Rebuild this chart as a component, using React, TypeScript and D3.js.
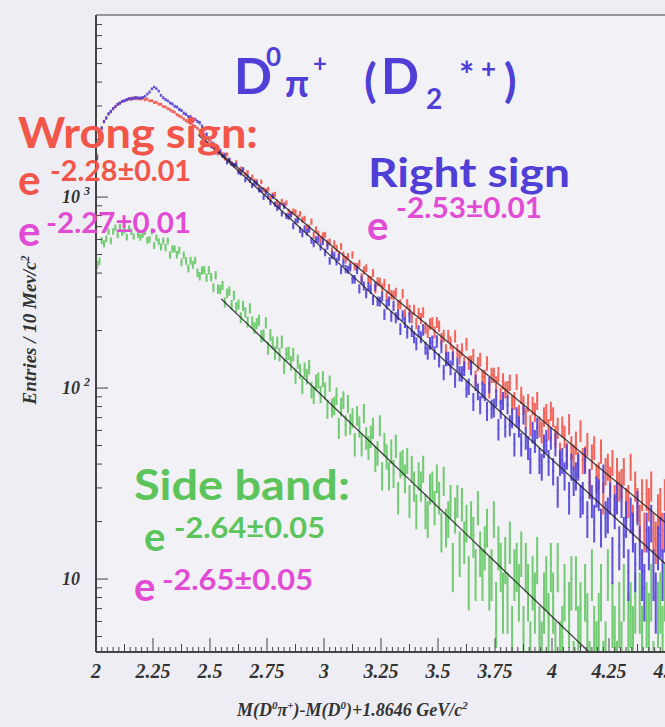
import React from "react";
import * as d3 from "d3";

// Histogram binning (GeV/c^2)
const BIN_START = 2.0;
const BIN_WIDTH = 0.01;

// Wrong-sign D0 pi+ combinations, entries per 10 MeV bin
const wrongSign = [
  1650, 2070, 2290, 2480, 2590, 2720, 2800, 2890, 2970, 3050,
  3100, 3160, 3190, 3220, 3280, 3240, 3310, 3270, 3300, 3250,
  3290, 3230, 3260, 3190, 3200, 3130, 3140, 3060, 3060, 2980,
  2960, 2900, 2860, 2810, 2780, 2700, 2660, 2620, 2560, 2510,
  2470, 2420, 2370, 2340, 2290, 2230, 2200, 2120, 2060, 1990,
  1937, 1818, 1811, 1690, 1756, 1682, 1595, 1674, 1556, 1498,
  1469, 1518, 1366, 1407, 1388, 1322, 1348, 1229, 1276, 1215,
  1207, 1123, 1203, 1092, 1079, 1098, 981, 1026, 1033, 940,
  904, 949, 910, 931, 840, 811, 841, 835, 780, 818,
  762, 771, 695, 692, 744, 631, 677, 640, 599, 630,
  633, 575, 583, 524, 570, 539, 499, 552, 496, 470,
  488, 441, 498, 433, 431, 449, 380, 414, 424, 370,
  367, 400, 332, 361, 359, 333, 354, 302, 332, 308,
  307, 317, 273, 275, 312, 243, 276, 256, 233, 257,
  218, 247, 232, 249, 207, 197, 217, 220, 196, 221,
  211, 181, 188, 157, 188, 173, 153, 187, 157, 145,
  159, 134, 170, 136, 136, 148, 113, 134, 141, 114,
  114, 135, 98, 117, 117, 105, 118, 91, 109, 98,
  99, 107, 83, 86, 108, 73, 92, 82, 70, 84,
  64, 81, 75, 86, 63, 59, 71, 74, 61, 76,
  71, 56, 62, 45, 63, 56, 45, 65, 49, 44,
  52, 40, 60, 42, 43, 51, 32, 44, 49, 34,
  35, 47, 27, 37, 39, 33, 41, 26, 37, 31,
  32, 37, 25, 26, 39, 20, 31, 25, 20, 28,
  18, 28, 25, 31, 18, 16, 23, 25, 18, 28,
];

// Right-sign D0 pi+ combinations (D2*+ region)
const rightSign = [
  1600, 2020, 2300, 2490, 2600, 2730, 2810, 2910, 2980, 3060,
  3110, 3170, 3200, 3240, 3260, 3290, 3280, 3320, 3290, 3300,
  3320, 3370, 3460, 3550, 3690, 3770, 3700, 3590, 3410, 3310,
  3240, 3190, 3110, 3070, 2990, 2960, 2880, 2840, 2750, 2710,
  2640, 2630, 2570, 2550, 2490, 2450, 2350, 2260, 2130, 2030,
  1846, 1900, 1711, 1753, 1726, 1640, 1666, 1520, 1570, 1492,
  1470, 1474, 1350, 1334, 1398, 1229, 1282, 1219, 1149, 1185,
  1182, 1089, 1091, 996, 1058, 1003, 939, 1009, 919, 876,
  896, 820, 896, 797, 789, 810, 704, 747, 756, 674,
  642, 686, 652, 676, 594, 570, 599, 597, 549, 586,
  513, 554, 464, 498, 495, 459, 484, 415, 453, 420,
  417, 428, 371, 372, 416, 331, 368, 343, 313, 340,
  329, 289, 341, 285, 284, 301, 243, 274, 285, 238,
  270, 234, 242, 204, 240, 221, 196, 235, 199, 185,
  171, 199, 185, 202, 162, 153, 172, 175, 153, 176,
  140, 165, 121, 142, 143, 128, 143, 111, 133, 119,
  119, 127, 99, 102, 128, 85, 107, 96, 82, 98,
  95, 76, 104, 78, 79, 89, 61, 78, 86, 63,
  82, 64, 70, 51, 71, 63, 51, 73, 55, 49,
  42, 59, 53, 62, 42, 39, 50, 53, 41, 55,
  37, 51, 29, 41, 42, 35, 44, 27, 39, 33,
  35, 39, 26, 27, 42, 21, 32, 26, 20, 29,
  28, 19, 34, 21, 22, 27, 13, 23, 27, 15,
  26, 17, 21, 11, 22, 18, 12, 24, 15, 11,
  9, 18, 15, 20, 11, 8, 15, 17, 11, 18,
];

// D0 mass side band
const sideBand = [
  441, 461, 593, 570, 604, 658, 590, 660, 692, 634,
  698, 650, 673, 618, 685, 659, 622, 698, 636, 615,
  638, 658, 594, 601, 661, 558, 613, 584, 548, 589,
  544, 589, 498, 536, 534, 499, 526, 456, 497, 464,
  423, 465, 442, 466, 402, 385, 414, 415, 379, 414,
  381, 336, 390, 330, 328, 345, 281, 313, 322, 273,
  306, 266, 274, 234, 270, 249, 222, 262, 222, 207,
  218, 227, 187, 189, 220, 162, 190, 173, 153, 173,
  150, 175, 130, 151, 152, 135, 150, 116, 138, 123,
  103, 125, 115, 129, 98, 92, 107, 110, 93, 112,
  97, 78, 106, 79, 81, 91, 62, 80, 87, 64,
  83, 65, 70, 51, 72, 63, 51, 74, 55, 49,
  56, 62, 43, 46, 64, 35, 51, 44, 35, 47,
  36, 50, 27, 40, 41, 34, 42, 26, 38, 31,
  23, 35, 31, 38, 23, 21, 30, 31, 24, 34,
  27, 18, 33, 19, 21, 26, 12, 22, 26, 14,
  25, 16, 20, 10, 21, 17, 11, 24, 14, 11,
  15, 19, 10, 11, 21, 7, 15, 12, 8, 13,
  8, 16, 5, 11, 12, 9, 14, 5, 12, 9,
  4, 10, 8, 13, 5, 4, 8, 10, 6, 12,
  8, 4, 12, 4, 5, 9, 1, 7, 10, 3,
  10, 5, 7, 2, 9, 6, 3, 11, 5, 4,
  6, 9, 3, 4, 11, 2, 7, 5, 3, 7,
  4, 9, 1, 6, 7, 5, 8, 2, 8, 5,
  2, 7, 6, 9, 3, 2, 7, 8, 5, 9,
];

// Exponential fits N = norm * exp(-slope * (m - ref))
const fitSlopes = [2.28, 2.53, 2.64];
const fitNorms = [1880, 1880, 21.0];
const fitRefs = [2.5, 2.5, 3.548];
const fitStarts = [2.45, 2.45, 2.55];

const xTicks = [2, 2.25, 2.5, 2.75, 3, 3.25, 3.5, 3.75, 4, 4.25, 4.5];
const xTickLabels = ["2", "2.25", "2.5", "2.75", "3", "3.25", "3.5", "3.75", "4", "4.25", "4.5"];
const yMajor = [10, 100, 1000];
const yMajorExp = ["", "2", "3"];

const W = 665;
const H = 727;
const L = 96, R = 666, T = 15, B = 652;

const RED = "#f2554a";
const BLUE = "#4f3fd6";
const GREEN = "#5cc45a";
const MAGENTA = "#e24cd4";

const x = d3.scaleLinear().domain([2, 4.5]).range([L, R]);
const y = d3.scaleLog().domain([4.15, 8980]).range([B, T]);

function histPath(vals: number[]) {
  const p = d3.path();
  vals.forEach((v, i) => {
    if (v <= 0) return;
    const x0 = x(BIN_START + i * BIN_WIDTH);
    const x1 = x(BIN_START + (i + 1) * BIN_WIDTH);
    const cx = (x0 + x1) / 2;
    const e = Math.sqrt(v);
    p.moveTo(x0, y(v));
    p.lineTo(x1, y(v));
    const lo = Math.max(v - e, 1);
    p.moveTo(cx, y(v + e));
    p.lineTo(cx, Math.min(y(lo), B + 5));
  });
  return p.toString();
}

function fitPath(k: number) {
  const pts = d3.range(fitStarts[k], 4.5001, 0.05);
  const f = (m: number) => fitNorms[k] * Math.exp(-fitSlopes[k] * (m - fitRefs[k]));
  return d3
    .line<number>()
    .x((m) => x(m))
    .y((m) => y(f(m)))(pts) as string;
}

const TEXT_FONT = "Lato, 'Open Sans', sans-serif";
const AXIS_FONT = "'Liberation Serif', 'DejaVu Serif', serif";

export default function App() {
  const minorX = d3.range(2, 4.5001, 0.025);
  const yMinor: number[] = [];
  [1, 10, 100, 1000].forEach((d) => {
    for (let k = 1; k <= 9; k++) {
      const v = d * k;
      if (v >= 4.15 && v <= 8980) yMinor.push(v);
    }
  });

  return (
    <svg
      width={W}
      height={H}
      style={{ position: "absolute", left: 0, top: 0, background: "#eeedf3" }}
    >
      <defs>
        <clipPath id="plotArea">
          <rect x={L} y={T} width={R - L} height={B - T} />
        </clipPath>
      </defs>
      <rect x={0} y={0} width={W} height={H} fill="#eeedf3" />
      <rect x={L} y={T} width={R - L} height={B - T} fill="#f2f1f6" />

      <g clipPath="url(#plotArea)" fill="none" strokeWidth={2}>
        <path d={histPath(sideBand)} stroke={GREEN} opacity={0.85} />
        <path d={histPath(wrongSign)} stroke={RED} opacity={0.9} />
        <path d={histPath(rightSign)} stroke={BLUE} opacity={0.9} />
        {[0, 1, 2].map((k) => (
          <path key={k} d={fitPath(k)} stroke="#222" strokeWidth={1.3} opacity={0.85} />
        ))}
      </g>

      {/* frame */}
      <line x1={L} x2={R} y1={T} y2={T} stroke="#777" strokeWidth={1.5} />
      <line x1={L} x2={L} y1={T} y2={B} stroke="#444" strokeWidth={2} />
      <line x1={L} x2={R} y1={B} y2={B} stroke="#444" strokeWidth={2} />

      {/* x ticks */}
      {minorX.map((m, i) => {
        const len = i % 10 === 0 ? 14 : i % 5 === 0 ? 8 : 5;
        return (
          <line key={"xm" + i} x1={x(m)} x2={x(m)} y1={B} y2={B - len} stroke="#444" strokeWidth={1} />
        );
      })}
      {xTicks.map((t, i) => (
        <text
          key={"xt" + i}
          x={x(t)}
          y={678}
          textAnchor="middle"
          fontFamily={AXIS_FONT}
          fontStyle="italic"
          fontWeight="bold"
          fontSize={20}
          fill="#333"
        >
          {xTickLabels[i]}
        </text>
      ))}

      {/* y ticks */}
      {yMinor.map((v, i) => {
        const major = yMajor.includes(v);
        return (
          <line key={"ym" + i} x1={L} x2={L + (major ? 12 : 6)} y1={y(v)} y2={y(v)} stroke="#444" strokeWidth={1} />
        );
      })}
      {yMajor.map((v, i) => (
        <g key={"yt" + i}>
          <text
            x={62}
            y={y(v) + 6}
            fontFamily={AXIS_FONT}
            fontStyle="italic"
            fontWeight="bold"
            fontSize={18}
            fill="#333"
          >
            10
          </text>
          {yMajorExp[i] && (
            <text
              x={84}
              y={y(v) - 2}
              fontFamily={AXIS_FONT}
              fontStyle="italic"
              fontWeight="bold"
              fontSize={12}
              fill="#333"
            >
              {yMajorExp[i]}
            </text>
          )}
        </g>
      ))}

      {/* axis titles */}
      <text
        transform="translate(36,330) rotate(-90)"
        textAnchor="middle"
        fontFamily={AXIS_FONT}
        fontStyle="italic"
        fontWeight="bold"
        fontSize={19}
        fill="#333"
      >
        Entries / 10 Mev/c<tspan dy={-7} fontSize={12}>2</tspan>
      </text>
      <text
        x={237}
        y={716}
        fontFamily={AXIS_FONT}
        fontStyle="italic"
        fontWeight="bold"
        fontSize={18}
        fill="#333"
      >
        M(D<tspan dy={-7} fontSize={11}>0</tspan>
        <tspan dy={7}>π</tspan>
        <tspan dy={-7} fontSize={11}>+</tspan>
        <tspan dy={7}>)-M(D</tspan>
        <tspan dy={-7} fontSize={11}>0</tspan>
        <tspan dy={7}>)+1.8646 GeV/c</tspan>
        <tspan dy={-7} fontSize={11}>2</tspan>
      </text>

      {/* title */}
      <g fill={BLUE} fontFamily={TEXT_FONT} fontWeight="bold">
        <text x={234} y={94} fontSize={50}>D</text>
        <text x={266} y={66} fontSize={26}>0</text>
        <text x={285} y={97} fontSize={38}>π</text>
        <text x={313} y={72} fontSize={24}>+</text>
        <text x={364} y={97} fontSize={46}>(</text>
        <text x={381} y={94} fontSize={50}>D</text>
        <text x={426} y={109} fontSize={28}>2</text>
        <text x={459} y={88} fontSize={36}>*</text>
        <text x={481} y={78} fontSize={26}>+</text>
        <text x={504} y={97} fontSize={46}>)</text>
      </g>

      {/* wrong sign */}
      <g fontFamily={TEXT_FONT} fontWeight="bold">
        <text x={18} y={148} fontSize={42} fill={RED} textLength={240} lengthAdjust="spacingAndGlyphs">
          Wrong sign:
        </text>
        <text x={18} y={195} fontSize={42} fill={RED}>e</text>
        <text x={50} y={181} fontSize={28} fill={RED} textLength={141} lengthAdjust="spacingAndGlyphs">
          -2.28±0.01
        </text>
        <text x={18} y={246} fontSize={42} fill={MAGENTA}>e</text>
        <text x={46} y={233} fontSize={28} fill={MAGENTA} textLength={145} lengthAdjust="spacingAndGlyphs">
          -2.27±0.01
        </text>
      </g>

      {/* right sign */}
      <g fontFamily={TEXT_FONT} fontWeight="bold">
        <text x={368} y={187} fontSize={40} fill={BLUE} textLength={202} lengthAdjust="spacingAndGlyphs">
          Right sign
        </text>
        <text x={367} y={240} fontSize={40} fill={MAGENTA}>e</text>
        <text x={396} y={218} fontSize={28} fill={MAGENTA} textLength={146} lengthAdjust="spacingAndGlyphs">
          -2.53±0.01
        </text>
      </g>

      {/* side band */}
      <g fontFamily={TEXT_FONT} fontWeight="bold">
        <text x={134} y={500} fontSize={42} fill={GREEN} textLength={216} lengthAdjust="spacingAndGlyphs">
          Side band:
        </text>
        <text x={144} y={551} fontSize={40} fill={GREEN}>e</text>
        <text x={174} y={538} fontSize={28} fill={GREEN} textLength={151} lengthAdjust="spacingAndGlyphs">
          -2.64±0.05
        </text>
        <text x={134} y={601} fontSize={40} fill={MAGENTA}>e</text>
        <text x={162} y={590} fontSize={28} fill={MAGENTA} textLength={151} lengthAdjust="spacingAndGlyphs">
          -2.65±0.05
        </text>
      </g>
    </svg>
  );
}
